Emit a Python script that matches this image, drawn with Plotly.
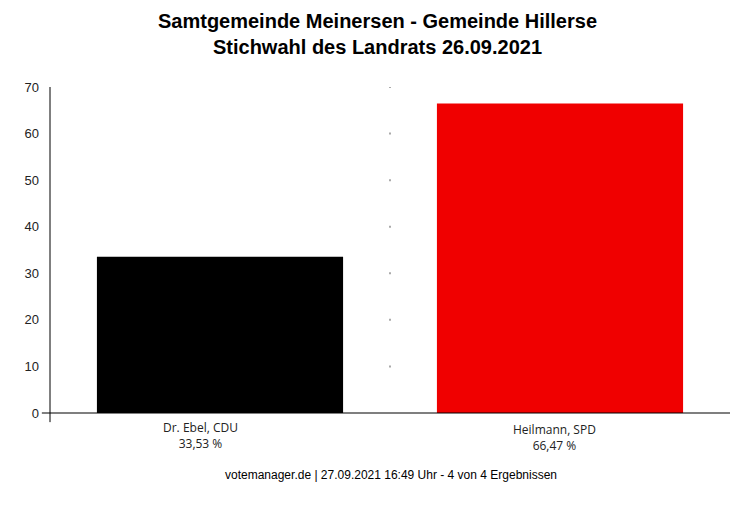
import plotly.graph_objects as go

candidates = ["Dr. Ebel, CDU", "Heilmann, SPD"]
shares = [33.53, 66.47]
bar_colors = ["#000000", "#f00000"]
y_ticks = [0, 10, 20, 30, 40, 50, 60, 70]
title_lines = ["Samtgemeinde Meinersen - Gemeinde Hillerse", "Stichwahl des Landrats 26.09.2021"]
footer = "votemanager.de | 27.09.2021 16:49 Uhr - 4 von 4 Ergebnissen"

# page body has an 8px margin, so the figure is laid out 8px left/up of page coordinates
xs = list(range(len(candidates)))
labels = [f"{c}<br>{f'{s:.2f}'.replace('.', ',')} %" for c, s in zip(candidates, shares)]
label_xshift = [-20, -6]
label_yshift = [0, -2]

fig = go.Figure()
fig.add_trace(go.Bar(x=xs, y=shares, marker=dict(color=bar_colors, line=dict(width=0)), width=0.724,
                     hoverinfo="skip"))
# dotted separator between categories
fig.add_trace(go.Scatter(x=[0.5] * (len(y_ticks) - 1), y=y_ticks[1:], mode="markers",
                         marker=dict(symbol="square", size=2, color="#aaaaaa"), hoverinfo="skip"))

annotations = [
    dict(text=footer, xref="paper", yref="paper", x=(383 - 42) / 680, y=-(467 - 405) / 326,
         yanchor="middle", showarrow=False,
         font=dict(family="Liberation Sans", size=12, color="#000000"))
]
for x, lab, dx, dy in zip(xs, labels, label_xshift, label_yshift):
    annotations.append(dict(text=lab, x=x, y=0, xref="x", yref="y", yanchor="top", showarrow=False,
                            xshift=dx, yshift=-4 + dy, align="center",
                            font=dict(family="Open Sans", size=12, color="#222222")))

fig.update_layout(
    width=755, height=509,
    margin=dict(l=42, r=33, t=79, b=104),
    paper_bgcolor="white", plot_bgcolor="white",
    showlegend=False,
    title=dict(text="<br>".join(title_lines), xref="container", x=369.5 / 755, xanchor="center",
               y=1 - 20 / 509, yanchor="top",
               font=dict(family="Liberation Sans", size=20, color="#000000", weight="bold")),
    xaxis=dict(range=[-0.5, 1.5], showgrid=False, zeroline=False, showticklabels=False,
               showline=False, ticks=""),
    yaxis=dict(range=[0, 70], tickvals=y_ticks, showgrid=False, zeroline=False, showline=False,
               ticks="", ticklabelstandoff=10,
               tickfont=dict(family="Liberation Sans", size=13, color="#222222")),
    shapes=[
        dict(type="line", xref="x domain", yref="y domain", x0=0, x1=0, y0=-0.028, y1=1,
             line=dict(color="black", width=1)),
        dict(type="line", xref="x domain", yref="y domain", x0=-0.012, x1=1, y0=0, y1=0,
             line=dict(color="black", width=1.2)),
    ],
    annotations=annotations,
)

fig.write_html("out.html")
